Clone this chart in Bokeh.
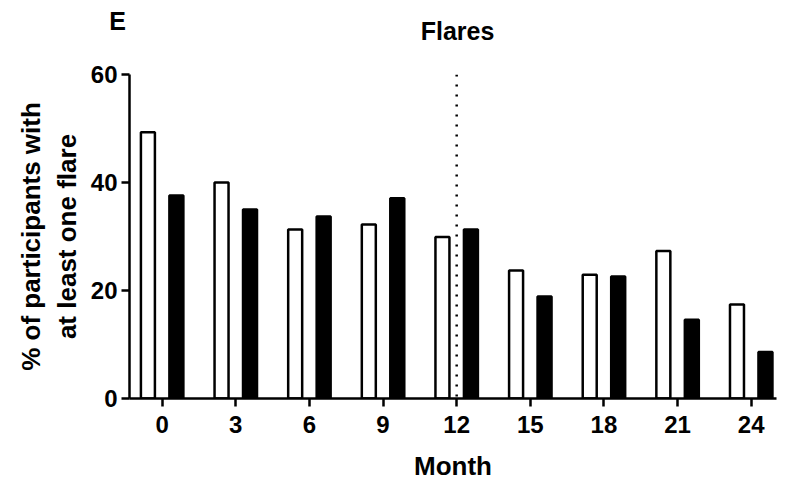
from bokeh.plotting import figure
from bokeh.models import FixedTicker, Span, Label, Range1d
from bokeh.embed import file_html
from bokeh.resources import INLINE

months = [0, 3, 6, 9, 12, 15, 18, 21, 24]
white_vals = [49.3, 40.0, 31.3, 32.2, 29.9, 23.7, 22.9, 27.3, 17.4]
black_vals = [37.6, 35.0, 33.7, 37.1, 31.3, 18.9, 22.6, 14.6, 8.6]
y_ticks = [0, 20, 40, 60]
ref_month = 12

FONT = "Liberation Sans"

p = figure(width=792, height=484, output_backend="svg", toolbar_location=None,
           x_range=Range1d(-1.33, 25.03), y_range=Range1d(0, 60),
           min_border_left=129, min_border_right=16, min_border_top=74, min_border_bottom=86)
p.outline_line_color = None
p.xgrid.grid_line_color = None
p.ygrid.grid_line_color = None
p.background_fill_color = "white"
p.border_fill_color = "white"

off = 0.58
wx = [m - off for m in months]
bx = [m + off for m in months]
p.vbar(x=wx, top=white_vals, bottom=0, width=0.57, fill_color="white", line_color="black", line_width=2.5)
p.vbar(x=bx, top=black_vals, bottom=0, width=0.57, fill_color="black", line_color="black", line_width=2.5)

span = Span(location=ref_month, dimension="height", line_color="black", line_width=2.5, line_dash="2 8")
p.add_layout(span)

for ax in (p.xaxis[0], p.yaxis[0]):
    ax.axis_line_width = 2.5
    ax.major_tick_line_width = 2.5
    ax.major_tick_out = 8
    ax.major_tick_in = 0
    ax.minor_tick_line_color = None
    ax.major_label_text_font = FONT
    ax.major_label_text_font_style = "bold"
    ax.major_label_text_font_size = "24px"
    ax.major_label_text_color = "black"
    ax.axis_label_text_font = FONT
    ax.axis_label_text_font_style = "bold"
    ax.axis_label_text_font_size = "26px"
    ax.axis_label_text_color = "black"

p.xaxis.ticker = FixedTicker(ticks=months)
p.yaxis.ticker = FixedTicker(ticks=y_ticks)
p.xaxis.axis_label = "Month"
p.yaxis.axis_label = "% of participants with\nat least one flare"
p.xaxis.major_label_standoff = 9
p.xaxis.axis_label_standoff = 15
p.yaxis.major_label_standoff = 4
p.yaxis.axis_label_standoff = 6

letter = Label(x=-12, y=54, x_units="screen", y_units="screen", text="E",
               text_font=FONT, text_font_style="bold", text_font_size="25px",
               text_color="black", text_align="center", text_baseline="middle")
p.add_layout(letter, "above")

title = Label(x=328, y=16, x_units="screen", y_units="screen", text="Flares",
              text_font=FONT, text_font_style="bold", text_font_size="25px",
              text_color="black", text_align="center", text_baseline="middle")
p.add_layout(title, "above")

open("out.html", "w").write(file_html(p, INLINE))
